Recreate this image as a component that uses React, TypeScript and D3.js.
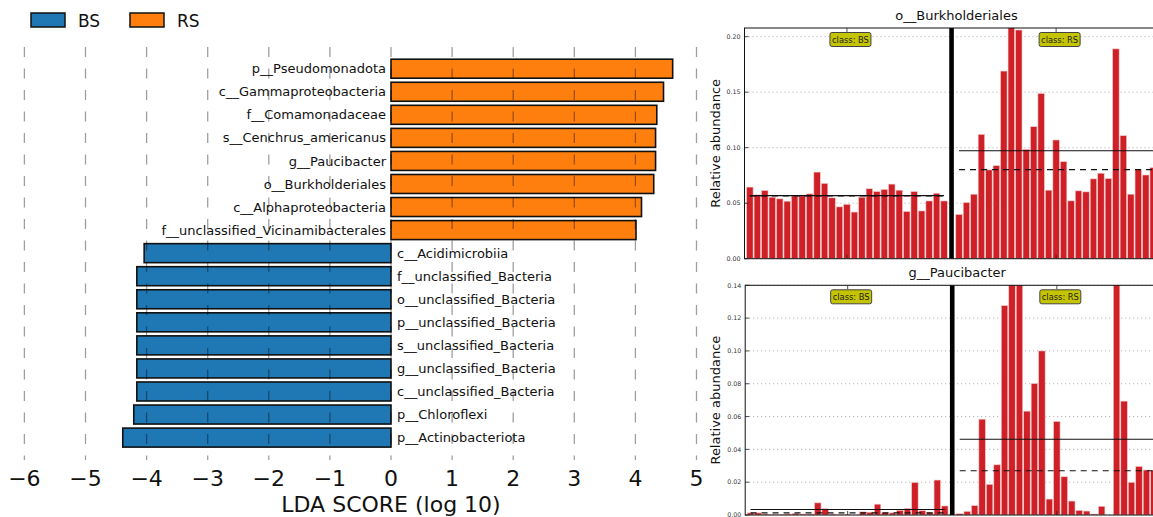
import React from 'react';
import * as d3 from 'd3';

// ---------- LEfSe LDA data ----------
const features = [
  'p__Pseudomonadota',
  'c__Gammaproteobacteria',
  'f__Comamonadaceae',
  's__Cenchrus_americanus',
  'g__Paucibacter',
  'o__Burkholderiales',
  'c__Alphaproteobacteria',
  'f__unclassified_Vicinamibacterales',
  'c__Acidimicrobiia',
  'f__unclassified_Bacteria',
  'o__unclassified_Bacteria',
  'p__unclassified_Bacteria',
  's__unclassified_Bacteria',
  'g__unclassified_Bacteria',
  'c__unclassified_Bacteria',
  'p__Chloroflexi',
  'p__Actinobacteriota',
];
const ldaScores = [4.61, 4.46, 4.35, 4.33, 4.33, 4.3, 4.1, 4.01, -4.04, -4.16, -4.16, -4.16, -4.16, -4.16, -4.16, -4.21, -4.39];
const classNames = ['BS', 'RS'];
const classColors = ['#1f77b4', '#ff7f0e'];
const ldaTicks = [-6, -5, -4, -3, -2, -1, 0, 1, 2, 3, 4, 5];

// ---------- Relative abundance panels ----------
const burkBS = [0.0645, 0.0575, 0.0614, 0.0554, 0.0539, 0.0518, 0.0566, 0.0566, 0.0584, 0.078, 0.0678, 0.0548, 0.0467, 0.049, 0.042, 0.0554, 0.063, 0.0605, 0.0624, 0.0672, 0.0617, 0.0425, 0.0605, 0.043, 0.052, 0.059, 0.052];
const burkRS = [0.0398, 0.0506, 0.0581, 0.112, 0.08, 0.0838, 0.169, 0.215, 0.206, 0.0985, 0.1189, 0.1488, 0.0617, 0.1069, 0.0874, 0.0521, 0.0611, 0.0602, 0.0719, 0.077, 0.0722, 0.189, 0.1108, 0.0581, 0.0802, 0.0754, 0.082];
const burkTicks = [0, 0.05, 0.1, 0.15, 0.2];

const paucBS = [0.0013, 0.0013, 0.0006, 0.0004, 0.0003, 0.0006, 0.001, 0.0006, 0.0006, 0.0074, 0.0038, 0.0006, 0.0002, 0.0003, 0.0, 0.0019, 0.0017, 0.0066, 0.0015, 0.0013, 0.0028, 0.004, 0.0198, 0.0026, 0.0015, 0.0213, 0.0055];
const paucRS = [0.0008, 0.0022, 0.0057, 0.0584, 0.0187, 0.0306, 0.1276, 0.165, 0.158, 0.0633, 0.0801, 0.1, 0.0097, 0.057, 0.0233, 0.0085, 0.0028, 0.0024, 0.0006, 0.0053, 0.0, 0.154, 0.0694, 0.0199, 0.0296, 0.0274, 0.027];
const paucTicks = [0, 0.02, 0.04, 0.06, 0.08, 0.1, 0.12, 0.14];

const FONT = '"DejaVu Sans", Verdana, sans-serif';

type PanelProps = {
  title: string;
  bs: number[];
  rs: number[];
  ticks: number[];
  yMax: number;
  top: number;
  bottom: number;
  left: number;
  id: string;
};

const Panel = ({ title, bs, rs, ticks, yMax, top, bottom, left, id }: PanelProps) => {
  const pitch = 7.47;
  const nSlots = bs.length + 1 + rs.length;
  const right = left + 424;
  const xs = d3.scaleLinear().domain([0, nSlots]).range([left + 2.1, left + 2.1 + nSlots * pitch]);
  const bw = pitch * 0.87;
  const y = d3.scaleLinear().domain([0, yMax]).range([bottom, top]);
  const rsStart = bs.length + 1;
  const cx = (i: number) => xs(i) + bw / 2;
  const groups = [
    { name: classNames[0], vals: bs, start: 0 },
    { name: classNames[1], vals: rs, start: rsStart },
  ];
  const sepX = cx(bs.length);
  return (
    <g>
      <defs>
        <clipPath id={id}>
          <rect x={left} y={top} width={right - left} height={bottom - top} />
        </clipPath>
      </defs>
      {/* grid */}
      {ticks.map((t) => (
        <line key={'g' + t} x1={left} x2={right} y1={y(t)} y2={y(t)} stroke="#a0a0a0" strokeWidth={0.9} strokeDasharray="1,3" />
      ))}
      <g clipPath={`url(#${id})`}>
        {groups.map((g) =>
          g.vals.map((v, i) => (
            <rect
              key={g.name + i}
              x={xs(g.start + i)}
              y={y(v)}
              width={bw}
              height={bottom - y(v)}
              fill="#cf2027"
              stroke="#f2caca"
              strokeWidth={0.6}
            />
          ))
        )}
        {groups.map((g) => {
          const m = d3.mean(g.vals) as number;
          const md = d3.median(g.vals) as number;
          const x1 = cx(g.start);
          const x2 = cx(g.start + g.vals.length - 1);
          return (
            <g key={'m' + g.name}>
              <line x1={x1} x2={x2} y1={y(m)} y2={y(m)} stroke="#111" strokeWidth={1.1} />
              <line x1={x1} x2={x2} y1={y(md)} y2={y(md)} stroke="#111" strokeWidth={1.1} strokeDasharray="6,5" />
            </g>
          );
        })}
      </g>
      {/* separator */}
      <line x1={sepX} x2={sepX} y1={top} y2={bottom} stroke="#000" strokeWidth={4.6} />
      {/* frame */}
      <rect x={left} y={top} width={right - left} height={bottom - top} fill="none" stroke="#111" strokeWidth={1} />
      {/* y ticks */}
      {ticks.map((t) => (
        <g key={'t' + t}>
          <line x1={left} x2={left + 4} y1={y(t)} y2={y(t)} stroke="#222" strokeWidth={0.8} />
          <text x={left - 4} y={y(t) + 2.2} fontSize={6.3} fontFamily={FONT} fill="#333" textAnchor="end">
            {t.toFixed(2)}
          </text>
        </g>
      ))}
      {/* class labels and x ticks */}
      {groups.map((g) => {
        const gc = (cx(g.start) + cx(g.start + g.vals.length - 1)) / 2;
        const bx = gc + 3.5;
        return (
          <g key={'c' + g.name}>
            <line x1={gc} x2={gc} y1={top} y2={top + 4} stroke="#222" strokeWidth={0.8} />
            <line x1={gc} x2={gc} y1={bottom} y2={bottom - 4} stroke="#222" strokeWidth={0.8} />
            <rect x={bx - 20.5} y={top + 4.5} width={41} height={14} rx={2} fill="#c4c400" stroke="#444" strokeWidth={1} />
            <text x={bx} y={top + 14.6} fontSize={8.3} fontFamily={FONT} fill="#222" textAnchor="middle">
              {'class: ' + g.name}
            </text>
          </g>
        );
      })}
      {/* title */}
      <text x={(left + right) / 2} y={top - 8.5} fontSize={13} fontFamily={FONT} fill="#111" textAnchor="middle">
        {title}
      </text>
      {/* y label */}
      <text
        transform={`translate(${left - 25},${(top + bottom) / 2}) rotate(-90)`}
        fontSize={13}
        fontFamily={FONT}
        fill="#111"
        textAnchor="middle"
      >
        Relative abundance
      </text>
    </g>
  );
};

const App = () => {
  const W = 1153;
  const H = 517;
  const x = d3.scaleLinear().domain([-6, 5]).range([24.4, 696.5]);
  const yc = d3.scalePoint<string>().domain(features).range([68.7, 437.6]);
  const barH = 19;
  const x0 = x(0);

  return (
    <svg
      width={W}
      height={H}
      viewBox={`0 0 ${W} ${H}`}
      style={{ position: 'absolute', left: 0, top: 0, display: 'block', background: '#fff' }}
    >
      <rect x={0} y={0} width={W} height={H} fill="#fff" />
      {/* Legend */}
      {classNames.map((c, i) => (
        <g key={c}>
          <rect x={31 + i * 99} y={13} width={34} height={14} fill={classColors[i]} stroke="#111" strokeWidth={1.5} />
          <text x={78 + i * 99} y={26.5} fontSize={17} fontFamily={FONT} fill="#111">
            {c}
          </text>
        </g>
      ))}
      {/* Bars */}
      {features.map((f, i) => {
        const v = ldaScores[i];
        const c = yc(f) as number;
        return (
          <rect
            key={f}
            x={Math.min(x(v), x0)}
            y={c - barH / 2}
            width={Math.abs(x(v) - x0)}
            height={barH}
            fill={v > 0 ? classColors[1] : classColors[0]}
            stroke="#111"
            strokeWidth={1.6}
          />
        );
      })}
      {/* Labels */}
      {features.map((f, i) => {
        const v = ldaScores[i];
        const c = yc(f) as number;
        return (
          <text
            key={'l' + f}
            x={v > 0 ? x0 - 5 : x0 + 6}
            y={c + 4.6}
            fontSize={13}
            fontFamily={FONT}
            fill="#111"
            textAnchor={v > 0 ? 'end' : 'start'}
          >
            {f}
          </text>
        );
      })}
      {/* Grid (dashed, on top) */}
      {ldaTicks.map((t) => (
        <line
          key={'gx' + t}
          x1={x(t)}
          x2={x(t)}
          y1={47}
          y2={460}
          stroke="#000"
          strokeOpacity={0.38}
          strokeWidth={1.3}
          strokeDasharray="10,11.5"
        />
      ))}
      {/* Tick labels */}
      {ldaTicks.map((t) => (
        <text key={'tx' + t} x={x(t)} y={486} fontSize={22} fontFamily={FONT} fill="#111" textAnchor="middle">
          {t < 0 ? '\u2212' + Math.abs(t) : String(t)}
        </text>
      ))}
      <text x={x0} y={512} fontSize={22} fontFamily={FONT} fill="#111" textAnchor="middle">
        LDA SCORE (log 10)
      </text>

      <Panel title="o__Burkholderiales" bs={burkBS} rs={burkRS} ticks={burkTicks} yMax={0.2078} top={28} bottom={258.7} left={744.5} id="clipA" />
      <Panel title="g__Paucibacter" bs={paucBS} rs={paucRS} ticks={paucTicks} yMax={0.14} top={285.3} bottom={515} left={745.2} id="clipB" />
    </svg>
  );
};

export default App;
